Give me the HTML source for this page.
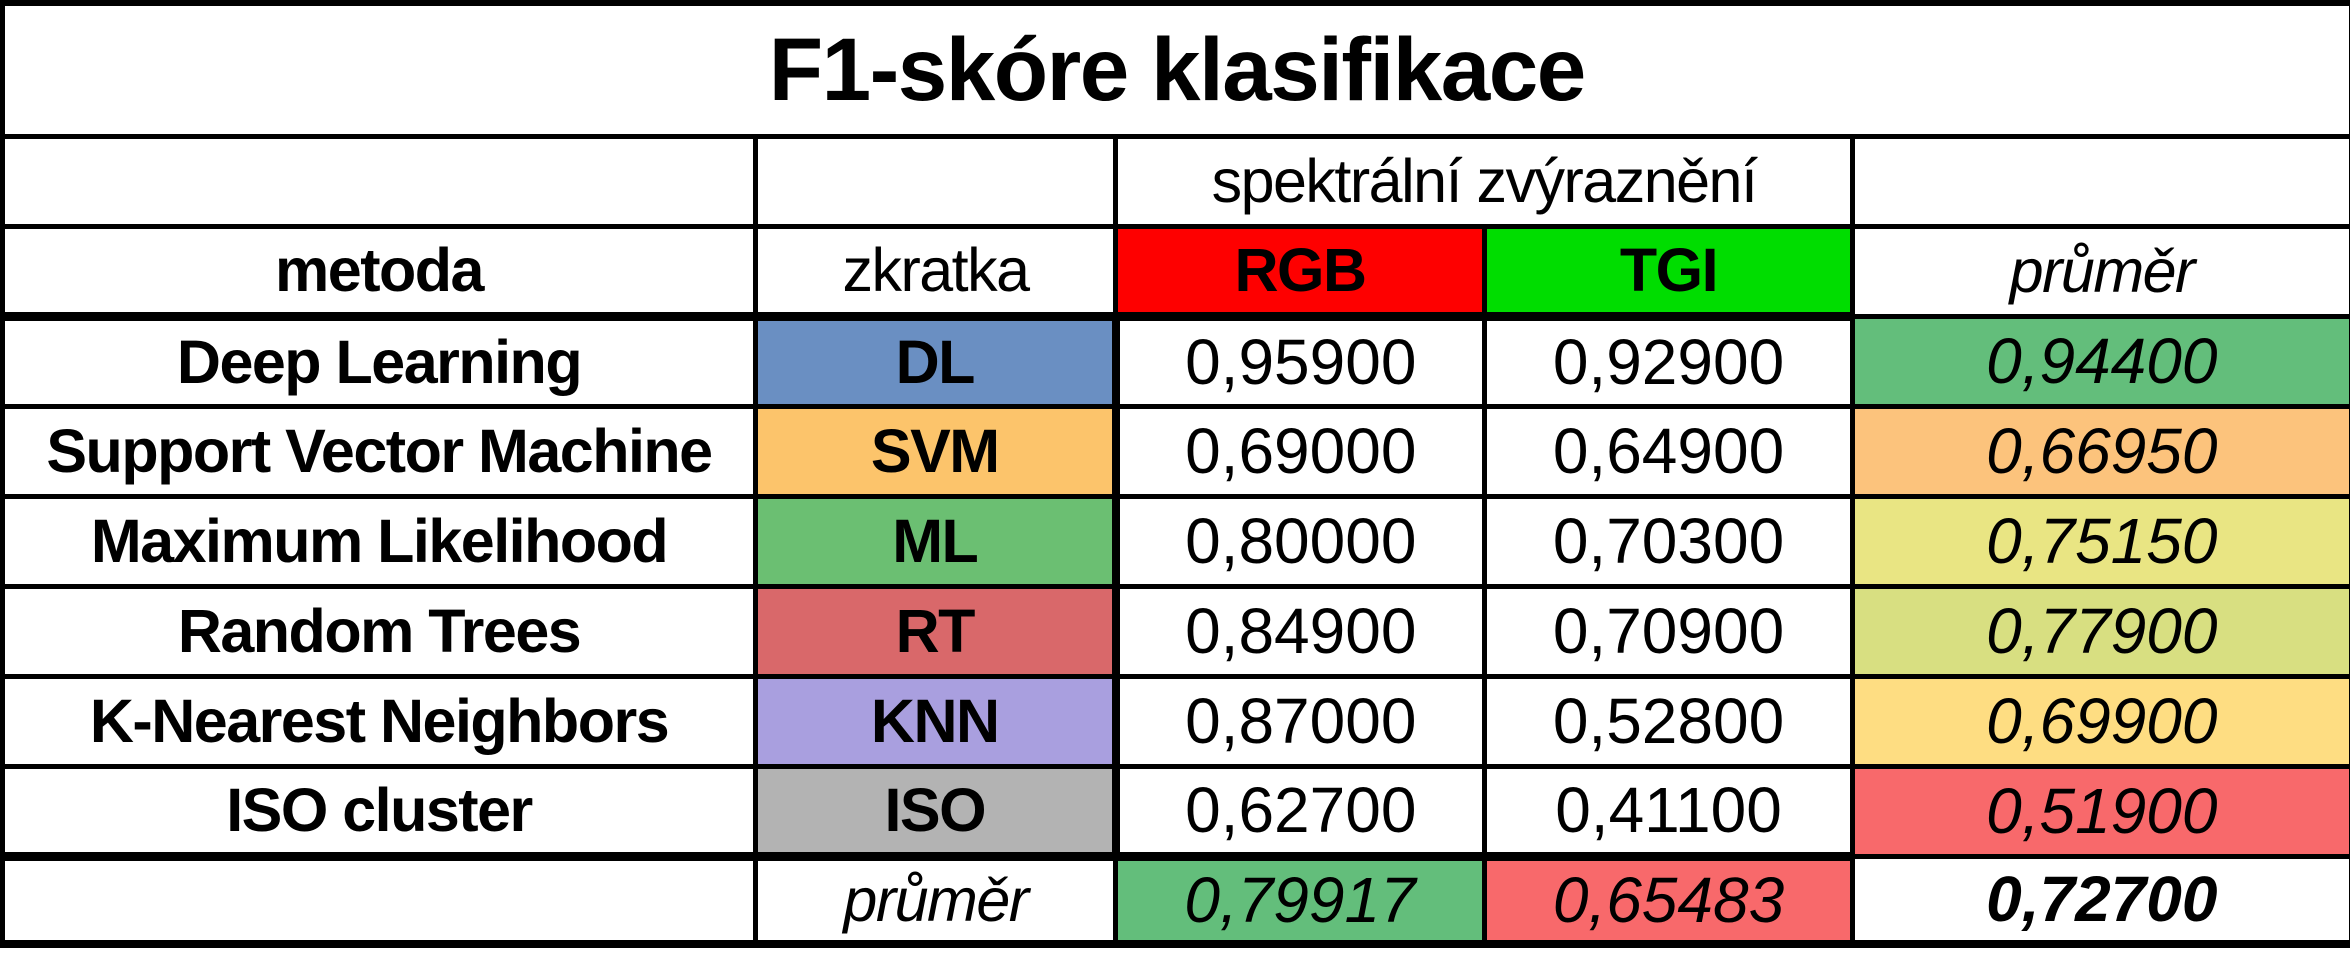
<!DOCTYPE html>
<html><head><meta charset="utf-8"><style>
html,body{margin:0;padding:0;background:#fff;}
body{width:2350px;height:955px;overflow:hidden;}
table{position:absolute;left:0;top:0;border-collapse:collapse;table-layout:fixed;width:2350px;font-family:"Liberation Sans",sans-serif;border:8px solid #000;border-left-width:5px;border-top-width:6px}
td{border:5px solid #000;text-align:center;vertical-align:middle;padding:0;font-size:61px;color:#000;white-space:nowrap;overflow:hidden;letter-spacing:-1.5px}
.n{font-size:64px;letter-spacing:0}
.b{font-weight:bold}
.i{font-style:italic}
.tk{border-left-width:8px}
.tb{border-bottom-width:9px}
</style></head><body>
<table>
<colgroup><col style="width:753px"><col style="width:360px"><col style="width:369px"><col style="width:368px"><col style="width:500px"></colgroup>
<tr style="height:133px"><td colspan="5" class="b" style="font-size:89px">F1-skóre klasifikace</td></tr>
<tr style="height:90px"><td></td><td></td><td colspan="2">spektrální zvýraznění</td><td></td></tr>
<tr style="height:90px"><td class="b tb">metoda</td><td class="tb">zkratka</td><td class="b tb" style="background:#fe0000">RGB</td><td class="b tb" style="background:#00dd00">TGI</td><td class="i">průměr</td></tr>
<tr style="height:90px"><td class="b">Deep Learning</td><td class="b" style="background:#6a8fc2">DL</td><td class="tk n">0,95900</td><td class="n">0,92900</td><td class="i n" style="background:#63be7b">0,94400</td></tr>
<tr style="height:90px"><td class="b">Support Vector Machine</td><td class="b" style="background:#fcc46b">SVM</td><td class="tk n">0,69000</td><td class="n">0,64900</td><td class="i n" style="background:#fcc37c">0,66950</td></tr>
<tr style="height:90px"><td class="b">Maximum Likelihood</td><td class="b" style="background:#6bbf72">ML</td><td class="tk n">0,80000</td><td class="n">0,70300</td><td class="i n" style="background:#e9e583">0,75150</td></tr>
<tr style="height:90px"><td class="b">Random Trees</td><td class="b" style="background:#d9686a">RT</td><td class="tk n">0,84900</td><td class="n">0,70900</td><td class="i n" style="background:#d8df81">0,77900</td></tr>
<tr style="height:90px"><td class="b">K-Nearest Neighbors</td><td class="b" style="background:#a99fdf">KNN</td><td class="tk n">0,87000</td><td class="n">0,52800</td><td class="i n" style="background:#fedd82">0,69900</td></tr>
<tr style="height:90px"><td class="b tb">ISO cluster</td><td class="b tb" style="background:#b3b3b3">ISO</td><td class="tk tb n">0,62700</td><td class="tb n">0,41100</td><td class="i n" style="background:#f8696b">0,51900</td></tr>
<tr style="height:88px"><td></td><td class="i">průměr</td><td class="i n" style="background:#63be7b">0,79917</td><td class="i n" style="background:#f8696b">0,65483</td><td class="i b n">0,72700</td></tr>
</table>
</body></html>
